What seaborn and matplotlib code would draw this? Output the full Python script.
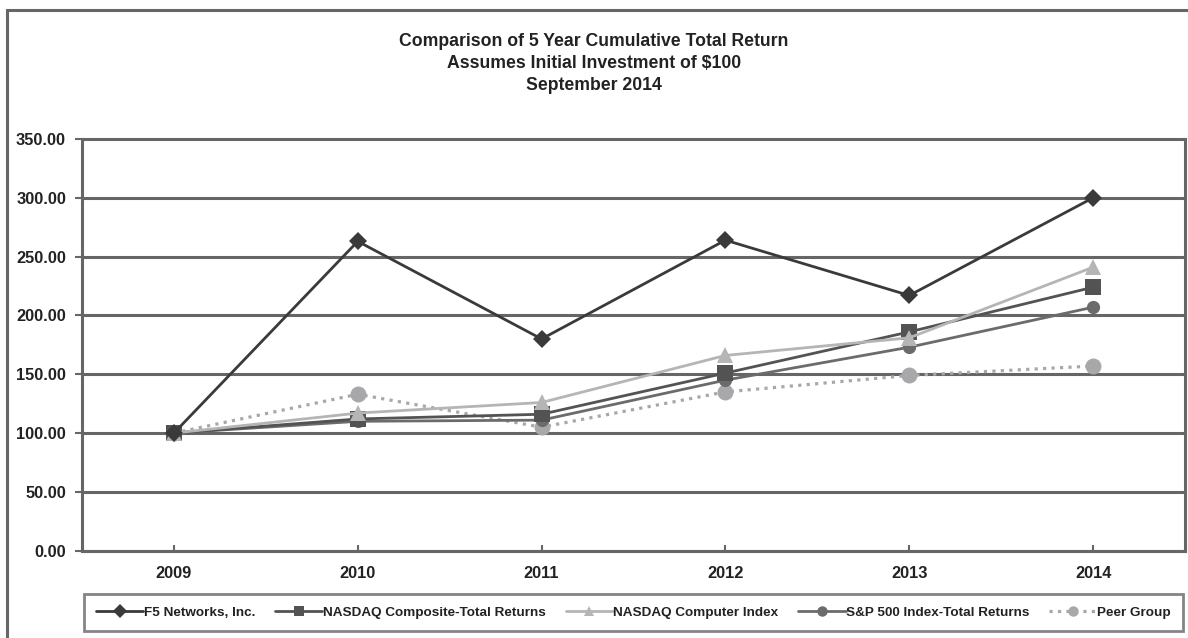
import matplotlib
matplotlib.use("Agg")
import matplotlib.pyplot as plt
import seaborn as sns
import pandas as pd
from matplotlib.patches import Rectangle

years = ["2009", "2010", "2011", "2012", "2013", "2014"]
f5 = [100, 263, 180, 264, 217, 300]
nasdaq_comp = [100, 112, 116, 151, 186, 224]
nasdaq_computer = [100, 117, 126, 166, 181, 241]
sp500 = [100, 110, 111, 145, 173, 207]
peer = [100, 133, 105, 135, 149, 157]

names = ["F5 Networks, Inc.", "NASDAQ Composite-Total Returns", "NASDAQ Computer Index",
         "S&P 500 Index-Total Returns", "Peer Group"]
series = [f5, nasdaq_comp, nasdaq_computer, sp500, peer]
colors = ["#3a3a3a", "#535353", "#b5b5b7", "#6b6b6b", "#a8a8aa"]
markers = ["D", "s", "^", "o", "o"]
msizes = [9.5, 12, 12, 9.5, 11.5]
styles = ["-", "-", "-", "-", ":"]
zorders = [6, 4, 5, 3, 2]

sns.set_theme(style="white")
plt.rcParams["font.family"] = ["Liberation Sans", "DejaVu Sans"]
plt.rcParams["font.weight"] = "bold"

W, H = 1188, 638
fig = plt.figure(figsize=(W / 100, H / 100), dpi=100)
ax = fig.add_axes([82 / W, 1 - 550.7 / H, (1185 - 82) / W, (550.7 - 139) / H])

for name, vals, c, m, ms, ls, z in zip(names, series, colors, markers, msizes, styles, zorders):
    df = pd.DataFrame({"x": range(len(years)), "y": vals})
    sns.lineplot(data=df, x="x", y="y", ax=ax, color=c, marker=m, markersize=ms,
                 markeredgewidth=0, linestyle=ls, linewidth=2.3 if ls == ":" else 2,
                 label=name, zorder=z, legend=False)

ax.set_xlim(-0.5, 5.5)
ax.set_ylim(0, 350)
ax.set_yticks(range(0, 351, 50))
ax.set_yticklabels([f"{v:.2f}" for v in range(0, 351, 50)], fontsize=11.8, fontweight="bold", color="#222222")
ax.set_xticks(range(len(years)))
ax.set_xticklabels(years, fontsize=11.8, fontweight="bold", color="#222222")
ax.tick_params(axis="y", length=5, width=1.5, color="#666666", direction="out", pad=6.5, left=True)
ax.tick_params(axis="x", length=4, width=1.5, color="#666666", direction="in", pad=11, bottom=True)
ax.set_xlabel("")
ax.set_ylabel("")
ax.yaxis.grid(True, color="#666666", linewidth=2.2)
for gl in ax.get_ygridlines():
    gl.set_clip_on(False)
ax.set_axisbelow(True)
for side, s in ax.spines.items():
    if side == "top":
        s.set_visible(False)
    else:
        s.set_visible(True)
        s.set_color("#666666")
        s.set_linewidth(2.2)

title_lines = ["Comparison of 5 Year Cumulative Total Return",
               "Assumes Initial Investment of $100",
               "September 2014"]
for t, yc in zip(title_lines, [42, 64, 86]):
    fig.text(0.5, 1 - yc / H, t, ha="center", va="center", fontsize=12.7, fontweight="bold",
             color="#222222")

fig.patches.append(Rectangle((7 / W, -0.05), 1.2, 1.05 - 9.5 / H, transform=fig.transFigure,
                             fill=False, edgecolor="#666666", linewidth=2.2))

handles, labels = ax.get_legend_handles_labels()
leg = fig.legend(handles, labels, loc="center", ncol=5, mode="expand",
                 bbox_to_anchor=(84 / W, 1 - 634 / H, (1183 - 84) / W, (634 - 591) / H),
                 frameon=True, fancybox=False, fontsize=9.7, handlelength=3.5,
                 handletextpad=0.05, borderaxespad=0, borderpad=0.9, columnspacing=1.0)
leg.get_frame().set_edgecolor("#666666")
leg.get_frame().set_linewidth(2)
for txt in leg.get_texts():
    txt.set_color("#222222")
for h in leg.legend_handles:
    h.set_markersize(7.5)

fig.savefig("out.png", dpi=100)
